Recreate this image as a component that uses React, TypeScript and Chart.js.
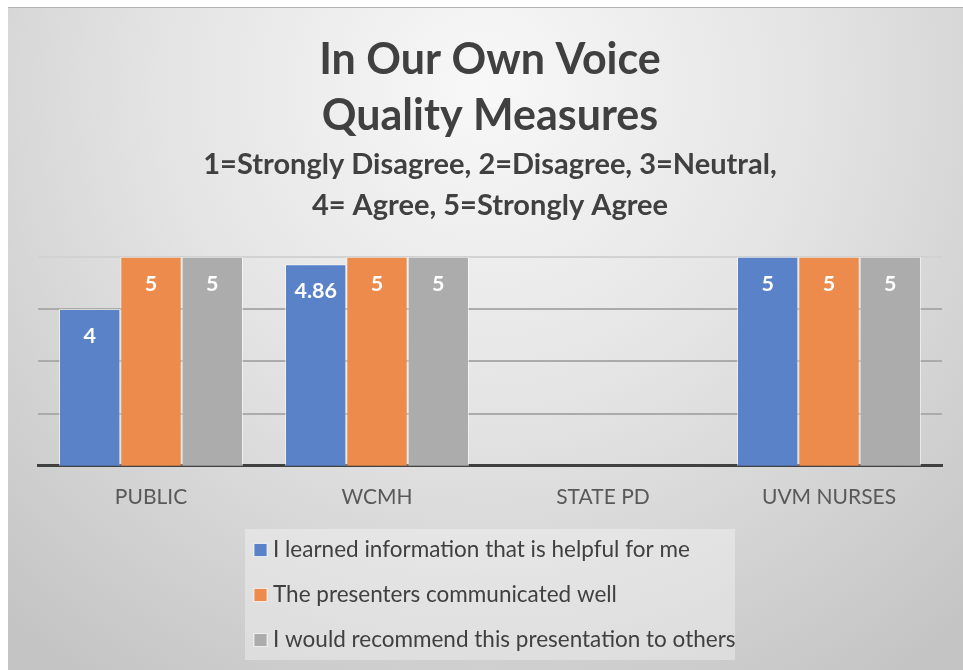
import React, { useEffect, useRef } from "react";
import { Chart, registerables } from "chart.js";

Chart.register(...registerables);

const categories = ["PUBLIC", "WCMH", "STATE PD", "UVM NURSES"];
const seriesLabels = [
  "I learned information that is helpful for me",
  "The presenters communicated well",
  "I would recommend this presentation to others",
];
const learnedValues: (number | null)[] = [4, 4.86, null, 5];
const communicatedValues: (number | null)[] = [5, 5, null, 5];
const recommendValues: (number | null)[] = [5, 5, null, 5];
const seriesColors = ["#5a82c8", "#ec8b4b", "#acacac"];
const titleLines = ["In Our Own Voice", "Quality Measures"];
const subtitleLines = [
  "1=Strongly Disagree, 2=Disagree, 3=Neutral,",
  "4= Agree, 5=Strongly Agree",
];

const FONT = "Lato";

const backgroundPlugin = {
  id: "bgGradient",
  beforeDraw(chart: any) {
    const { ctx, width, height } = chart;
    ctx.save();
    const g = ctx.createRadialGradient(width * 0.5, height * 0.12, 0, width * 0.5, height * 0.12, width * 0.75);
    g.addColorStop(0, "#f8f8f8");
    g.addColorStop(0.45, "#e4e4e4");
    g.addColorStop(1, "#c4c4c4");
    ctx.fillStyle = g;
    ctx.fillRect(0, 0, width, height);
    ctx.restore();
  },
};

const dataLabelPlugin = {
  id: "barLabels",
  afterDatasetsDraw(chart: any) {
    const { ctx } = chart;
    ctx.save();
    ctx.fillStyle = "#ffffff";
    ctx.font = `bold 21.5px ${FONT}`;
    ctx.textAlign = "center";
    ctx.textBaseline = "middle";
    chart.data.datasets.forEach((ds: any, i: number) => {
      const meta = chart.getDatasetMeta(i);
      meta.data.forEach((bar: any, j: number) => {
        const v = ds.data[j];
        if (v === null || v === undefined) return;
        ctx.fillText(String(v), bar.x, bar.y + 27);
      });
    });
    ctx.restore();
  },
};

const legendPlugin = {
  id: "boxLegend",
  afterDraw(chart: any) {
    const { ctx } = chart;
    const left = 237;
    const top = 521;
    const w = 490;
    const h = 131;
    ctx.save();
    ctx.fillStyle = "rgba(255,255,255,0.33)";
    ctx.fillRect(left, top, w, h);
    ctx.font = `22.5px ${FONT}`;
    ctx.textBaseline = "middle";
    ctx.textAlign = "left";
    chart.data.datasets.forEach((ds: any, i: number) => {
      const cy = top + 21 + i * 45;
      ctx.fillStyle = ds.backgroundColor;
      ctx.fillRect(left + 9, cy - 6.5, 13, 13);
      ctx.strokeStyle = "rgba(255,255,255,0.7)";
      ctx.lineWidth = 1;
      ctx.strokeRect(left + 9, cy - 6.5, 13, 13);
      ctx.fillStyle = "#404040";
      ctx.fillText(ds.label, left + 28, cy);
    });
    ctx.restore();
  },
};

export default function App() {
  const ref = useRef<HTMLCanvasElement | null>(null);
  useEffect(() => {
    if (!ref.current) return;
    const values = [learnedValues, communicatedValues, recommendValues];
    const chart = new Chart(ref.current, {
      type: "bar",
      data: {
        labels: categories,
        datasets: seriesLabels.map((label, i) => ({
          label,
          data: values[i],
          backgroundColor: seriesColors[i],
          borderColor: "rgba(255,255,255,0.55)",
          borderWidth: 1,
          categoryPercentage: 0.814,
          barPercentage: 1,
        })),
      },
      options: {
        animation: false,
        responsive: false,
        maintainAspectRatio: false,
        layout: { padding: { left: 30, right: 21, top: 0, bottom: 141 } },
        plugins: {
          legend: { display: false },
          tooltip: { enabled: false },
          title: {
            display: true,
            text: titleLines,
            color: "#404040",
            font: { family: FONT, size: 43, weight: "bold", lineHeight: 1.3 },
            padding: { top: 24, bottom: 0 },
          },
          subtitle: {
            display: true,
            text: subtitleLines,
            color: "#404040",
            font: { family: FONT, size: 29, weight: "bold", lineHeight: 1.414 },
            padding: { top: 0, bottom: 31 },
          },
        },
        scales: {
          x: {
            grid: { display: false, drawTicks: false },
            border: { display: true, color: "#404040", width: 3 },
            ticks: {
              color: "#595959",
              font: { family: FONT, size: 21, lineHeight: 1.2 },
              padding: 19,
            },
          },
          y: {
            min: 1,
            max: 5,
            ticks: { display: false, stepSize: 1 },
            border: { display: false },
            grid: {
              drawTicks: false,
              lineWidth: 2,
              color: (c: any) => (c.tick && c.tick.value === 5 ? "#d2d2d2" : "#ababab"),
            },
          },
        },
      },
      plugins: [backgroundPlugin, dataLabelPlugin, legendPlugin],
    });
    return () => chart.destroy();
  }, []);

  return (
    <div
      style={{
        position: "fixed",
        left: 8,
        top: 7,
        width: 955,
        height: 663,
        borderTop: "1px solid #b4b4b4",
        overflow: "hidden",
      }}
    >
      <canvas ref={ref} width={955} height={662} style={{ display: "block", width: 955, height: 662 }} />
    </div>
  );
}
